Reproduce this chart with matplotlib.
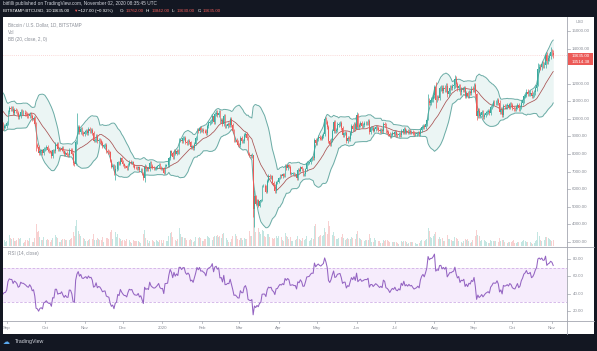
"""
BTC/USD daily chart (Bitstamp) with Bollinger Bands, volume and RSI,
styled after a TradingView snapshot.
"""

import matplotlib
matplotlib.use("Agg")  # headless backend
import matplotlib.pyplot as plt
import matplotlib.transforms as mtransforms
from matplotlib.lines import Line2D
from matplotlib.patches import Rectangle
import numpy as np
import pandas as pd

plt.rcParams["font.family"] = ["Liberation Sans", "DejaVu Sans"]

# ---------------------------------------------------------------------------
# Daily closes (USD), one list per month, starting 2019-08-01
# ---------------------------------------------------------------------------

close_2019_08 = [10400, 10530, 10820, 10980, 11800, 11470, 11980, 11980, 11850, 11290,
                 11550, 11390, 10870, 10050, 10310, 10360, 10220, 10320, 10920, 10760,
                 10130, 10110, 10410, 10140, 10140, 10370, 10180, 9720, 9480, 9590, 9600]
close_2019_09 = [9750, 10380, 10620, 10580, 10580, 10320, 10500, 10440, 10340, 10110,
                 10160, 10420, 10360, 10360, 10310, 10260, 10190, 10160, 10270, 10180,
                 9990, 10030, 9690, 8530, 8430, 8060, 8180, 8210, 8040, 8300]
close_2019_10 = [8330, 8390, 8230, 8150, 8140, 7870, 8210, 8180, 8590, 8590,
                 8260, 8300, 8280, 8360, 8160, 8000, 8080, 7960, 7950, 8230,
                 8220, 8030, 7470, 7410, 8660, 9250, 9550, 9240, 9430, 9180, 9150]
close_2019_11 = [9250, 9310, 9200, 9410, 9310, 9350, 9200, 8770, 8810, 9040,
                 8720, 8800, 8760, 8630, 8460, 8490, 8500, 8170, 8120, 8090,
                 7620, 7280, 7330, 6900, 7130, 7170, 7530, 7440, 7760, 7570]
close_2019_12 = [7420, 7310, 7300, 7200, 7400, 7550, 7510, 7530, 7350, 7230,
                 7210, 7200, 7260, 7070, 7110, 6880, 6620, 7280, 7150, 7190,
                 7140, 7510, 7320, 7250, 7200, 7200, 7250, 7310, 7390, 7220, 7170]
close_2020_01 = [7180, 6950, 7340, 7350, 7360, 7760, 8150, 8040, 7820, 8190,
                 8020, 8180, 8110, 8810, 8820, 8720, 8900, 8910, 8700, 8630,
                 8730, 8660, 8390, 8440, 8340, 8600, 8900, 9390, 9290, 9510, 9350]
close_2020_02 = [9380, 9330, 9290, 9180, 9620, 9750, 9800, 9900, 10160, 9850,
                 10270, 10360, 10240, 10360, 9900, 9930, 9700, 10180, 9600, 9610,
                 9690, 9670, 9970, 9660, 9310, 8790, 8810, 8700, 8540]
close_2020_03 = [8530, 8920, 8760, 8760, 9070, 9160, 8900, 8030, 7930, 7890,
                 7940, 4860, 5600, 5170, 5360, 5030, 5330, 5400, 6180, 6200,
                 6190, 5830, 6480, 6770, 6690, 6750, 6370, 6250, 5880, 6400, 6420]
close_2020_04 = [6640, 6800, 6740, 6860, 6780, 7340, 7200, 7370, 7290, 6870,
                 6890, 6910, 6850, 6860, 6630, 7100, 7040, 7250, 7130, 6850,
                 6860, 7130, 7490, 7510, 7540, 7700, 7780, 7770, 8800, 8620]
close_2020_05 = [8830, 8970, 8910, 8880, 9030, 9160, 9990, 9810, 9540, 8730,
                 8570, 8820, 9320, 9800, 9310, 9390, 9680, 9730, 9780, 9510,
                 9070, 9170, 9180, 8720, 8900, 8840, 9200, 9570, 9430, 9700, 9450]
close_2020_06 = [10200, 9520, 9670, 9790, 9620, 9670, 9750, 9780, 9770, 9880,
                 9280, 9470, 9480, 9340, 9430, 9520, 9460, 9380, 9300, 9360,
                 9290, 9690, 9630, 9290, 9250, 9160, 9010, 9110, 9190, 9140]
close_2020_07 = [9230, 9090, 9060, 9130, 9080, 9340, 9250, 9430, 9240, 9290,
                 9230, 9300, 9240, 9260, 9190, 9130, 9150, 9170, 9210, 9160,
                 9390, 9530, 9600, 9540, 9700, 9930, 11030, 10920, 11100, 11110, 11350]
close_2020_08 = [11800, 11070, 11230, 11190, 11750, 11770, 11600, 11760, 11680, 11890,
                 11390, 11570, 11780, 11770, 11860, 11910, 12290, 11960, 11750, 11860,
                 11520, 11680, 11650, 11750, 11330, 11470, 11320, 11530, 11480, 11710, 11650]
close_2020_09 = [11920, 11400, 10170, 10470, 10170, 10250, 10370, 10120, 10230, 10340,
                 10390, 10440, 10330, 10680, 10790, 10950, 10940, 10940, 11080, 10920,
                 10420, 10530, 10240, 10740, 10690, 10720, 10780, 10700, 10840, 10780]
close_2020_10 = [10620, 10570, 10550, 10670, 10790, 10600, 10670, 10920, 11060, 11300,
                 11380, 11540, 11430, 11430, 11500, 11320, 11370, 11510, 11750, 11920,
                 12820, 12980, 12930, 13120, 13040, 13070, 13650, 13280, 13460, 13560, 13800]
close_2020_11 = [13760, 13635]

# Daily volume (thousand BTC), same months
vol_2019_08 = [8, 9, 10, 9, 14, 12, 12, 10, 8, 9, 6, 7, 10, 12, 11, 9, 5, 6, 8, 8,
               10, 8, 7, 5, 5, 8, 7, 10, 9, 6, 4]
vol_2019_09 = [5, 12, 11, 8, 7, 8, 5, 5, 6, 8, 7, 8, 6, 3, 4, 6, 6, 5, 8, 6,
               4, 4, 8, 22, 14, 15, 9, 6, 6, 9]
vol_2019_10 = [8, 6, 7, 6, 4, 6, 8, 7, 11, 9, 8, 4, 4, 6, 7, 7, 6, 6, 4, 6,
               7, 8, 14, 10, 20, 26, 15, 12, 10, 9, 8]
vol_2019_11 = [7, 5, 5, 6, 7, 6, 7, 12, 6, 6, 8, 7, 6, 6, 9, 4, 4, 8, 8, 7,
               14, 16, 7, 12, 14, 9, 12, 8, 7, 5]
vol_2019_12 = [6, 6, 5, 7, 8, 6, 4, 3, 6, 5, 5, 5, 5, 4, 3, 7, 12, 16, 8, 6,
               3, 5, 9, 6, 5, 4, 6, 5, 4, 6, 6]
vol_2020_01 = [3, 6, 12, 5, 5, 10, 13, 14, 9, 11, 6, 5, 7, 18, 12, 9, 9, 8, 8, 6,
               5, 6, 7, 6, 4, 5, 9, 11, 8, 9, 8]
vol_2020_02 = [5, 5, 7, 7, 10, 9, 8, 5, 6, 9, 10, 10, 11, 9, 10, 8, 12, 13, 12, 8,
               6, 4, 4, 7, 10, 14, 12, 10, 7]
vol_2020_03 = [6, 8, 8, 6, 8, 7, 7, 12, 15, 10, 10, 45, 38, 14, 10, 18, 14, 12, 16, 15,
               10, 9, 12, 12, 9, 7, 8, 7, 8, 10, 8]
vol_2020_04 = [10, 12, 9, 6, 5, 13, 10, 9, 7, 9, 5, 5, 7, 6, 7, 10, 7, 6, 5, 8,
               6, 7, 10, 7, 5, 6, 8, 7, 20, 22]
vol_2020_05 = [12, 9, 10, 11, 10, 11, 18, 14, 12, 25, 20, 12, 11, 14, 10, 7, 7, 8, 8, 9,
               12, 8, 6, 7, 8, 7, 7, 9, 8, 8, 7]
vol_2020_06 = [12, 15, 8, 7, 6, 4, 5, 6, 6, 6, 12, 8, 4, 4, 8, 6, 5, 5, 5, 3,
               3, 6, 5, 6, 6, 5, 4, 3, 4, 4]
vol_2020_07 = [4, 4, 3, 2, 3, 5, 4, 5, 5, 4, 2, 3, 4, 4, 4, 3, 3, 2, 2, 3,
               5, 6, 6, 5, 6, 7, 18, 15, 9, 8, 10]
vol_2020_08 = [12, 14, 8, 7, 9, 7, 8, 5, 5, 7, 11, 7, 7, 6, 5, 5, 9, 8, 7, 5,
               6, 4, 3, 5, 7, 6, 7, 5, 3, 4, 6]
vol_2020_09 = [9, 10, 16, 11, 10, 5, 6, 7, 6, 5, 4, 3, 3, 6, 5, 5, 5, 5, 4, 4,
               8, 5, 6, 6, 4, 3, 3, 4, 4, 4]
vol_2020_10 = [5, 6, 3, 3, 4, 4, 3, 4, 5, 6, 5, 4, 4, 5, 4, 3, 2, 3, 5, 6,
               14, 10, 6, 5, 5, 6, 9, 9, 8, 7, 6]
vol_2020_11 = [5, 6]

# Days with notable wicks: date -> (high, low)
WICKS = {
    "2019-09-24": (9800, 8200),
    "2019-10-25": (8800, 7400),
    "2019-10-26": (10350, 8600),
    "2019-11-25": (7350, 6520),
    "2019-12-18": (7430, 6430),
    "2020-03-12": (7970, 4400),
    "2020-03-13": (5950, 3850),
    "2020-06-01": (10420, 9420),
    "2020-07-27": (11390, 9930),
    "2020-08-02": (12080, 10600),
    "2020-08-17": (12470, 11770),
    "2020-09-03": (11460, 9960),
    "2020-10-21": (13200, 11880),
    "2020-10-31": (14100, 13420),
}

MONTH_TICKS = ["2019-09-01", "2019-10-01", "2019-11-01", "2019-12-01", "2020-01-01",
               "2020-02-01", "2020-03-01", "2020-04-01", "2020-05-01", "2020-06-01",
               "2020-07-01", "2020-08-01", "2020-09-01", "2020-10-01", "2020-11-01"]
MONTH_LABELS = ["Sep", "Oct", "Nov", "Dec", "2020", "Feb", "Mar", "Apr", "May",
                "Jun", "Jul", "Aug", "Sep", "Oct", "Nov"]

PRICE_TICKS = [15000, 14000, 12000, 11000, 10000, 9000, 8000, 7000, 6000, 5000, 4000, 3000]
RSI_TICKS = [80, 60, 40, 20]

LAST_PRICE = 13635.00

# ---------------------------------------------------------------------------
# Series assembly
# ---------------------------------------------------------------------------

closes = np.array(close_2019_08 + close_2019_09 + close_2019_10 + close_2019_11
                  + close_2019_12 + close_2020_01 + close_2020_02 + close_2020_03
                  + close_2020_04 + close_2020_05 + close_2020_06 + close_2020_07
                  + close_2020_08 + close_2020_09 + close_2020_10 + close_2020_11,
                  dtype=float)
volumes = np.array(vol_2019_08 + vol_2019_09 + vol_2019_10 + vol_2019_11
                   + vol_2019_12 + vol_2020_01 + vol_2020_02 + vol_2020_03
                   + vol_2020_04 + vol_2020_05 + vol_2020_06 + vol_2020_07
                   + vol_2020_08 + vol_2020_09 + vol_2020_10 + vol_2020_11,
                   dtype=float)
assert len(closes) == len(volumes)

dates = pd.date_range("2019-08-01", periods=len(closes), freq="D")
idx = np.arange(len(closes))
opens = np.r_[closes[0], closes[:-1]]
WICK = 0.012
highs = np.maximum(opens, closes) * (1 + WICK)
lows = np.minimum(opens, closes) * (1 - WICK)
for d, (hi, lo) in WICKS.items():
    i = (pd.Timestamp(d) - dates[0]).days
    highs[i], lows[i] = hi, lo

s = pd.Series(closes)
basis = s.rolling(20).mean()
dev = s.rolling(20).std(ddof=0)
upper = basis + 2 * dev
lower = basis - 2 * dev

delta = s.diff()
gain = delta.clip(lower=0).ewm(alpha=1 / 14, adjust=False).mean()
loss = (-delta.clip(upper=0)).ewm(alpha=1 / 14, adjust=False).mean()
rsi = 100 - 100 / (1 + gain / loss)

# ---------------------------------------------------------------------------
# Layout (pixel boxes on a 597x351 canvas)
# ---------------------------------------------------------------------------

W, H = 597, 351
BG = "#131722"
UP, DOWN = "#3aaa9e", "#ec5a57"
GREY = "#8a8e97"
AXLINE = "#a3a6af"


def box(x0, y0, x1, y1):
    return [x0 / W, 1 - y1 / H, (x1 - x0) / W, (y1 - y0) / H]


def fx(x):
    return x / W


def fy(y):
    return 1 - y / H


fig = plt.figure(figsize=(W / 100, H / 100), dpi=100, facecolor=BG)

panel = fig.add_axes(box(3, 17, 594, 334))
panel.set_facecolor("white")
panel.set_axis_off()
panel.add_patch(Rectangle((0, 0), 1, 1, transform=panel.transAxes,
                          color="white", zorder=0))

XLIM = (28.1, 469.8)

ax_vol = fig.add_axes(box(3, 18, 567, 246))
ax = fig.add_axes(box(3, 18, 567, 246))
ax_rsi = fig.add_axes(box(3, 247, 567, 321))
ax_time = fig.add_axes(box(3, 321, 594, 334))
for a in (ax_vol, ax, ax_rsi, ax_time):
    a.set_axis_off()
    a.patch.set_visible(False)
for a in (ax_vol, ax, ax_rsi):
    a.set_xlim(*XLIM)
ax_vol.set_zorder(1)
ax.set_zorder(2)

# Volume
up_day = closes >= opens
ax_vol.bar(idx, volumes, width=0.7, linewidth=0,
           color=np.where(up_day, "#c4e6e2", "#f8d0d0"))
ax_vol.set_ylim(0, 230)

# Bollinger bands
ax.fill_between(idx, lower, upper, color="#ebf5f4", linewidth=0, zorder=1)
ax.plot(idx, upper, color="#6aaba5", lw=0.7, zorder=2)
ax.plot(idx, lower, color="#6aaba5", lw=0.7, zorder=2)
ax.plot(idx, basis, color="#a85252", lw=0.55, zorder=2)

# Candles
ccol = np.where(up_day, UP, DOWN)
ax.vlines(idx, lows, highs, colors=ccol, lw=0.5, zorder=3)
ax.bar(idx, closes - opens, bottom=opens, width=0.65, color=ccol, linewidth=0, zorder=4)
ax.axhline(LAST_PRICE, color=DOWN, lw=0.5, ls=(0, (1, 2)), alpha=0.45, zorder=2)
ax.set_ylim(2770, 15740)

# RSI
ax_rsi.axhspan(30, 70, color="#f6ecfc", linewidth=0, zorder=0)
ax_rsi.axhline(70, color="#d0b0e6", lw=0.6, ls=(0, (3, 2)), zorder=1)
ax_rsi.axhline(30, color="#d0b0e6", lw=0.6, ls=(0, (3, 2)), zorder=1)
ax_rsi.plot(idx, rsi, color="#9464c2", lw=0.75, zorder=2)
ax_rsi.set_ylim(8.46, 93.85)

# Separator lines
fig.add_artist(Line2D([fx(567), fx(567)], [fy(17), fy(334)], color=AXLINE, lw=0.6))
fig.add_artist(Line2D([fx(3), fx(594)], [fy(246.5), fy(246.5)], color=AXLINE, lw=0.6))
fig.add_artist(Line2D([fx(3), fx(594)], [fy(321), fy(321)], color=AXLINE, lw=0.6))

# Price axis labels
tr_p = mtransforms.blended_transform_factory(fig.transFigure, ax.transData)
for v in PRICE_TICKS:
    fig.add_artist(Line2D([fx(567), fx(570)], [v, v], transform=tr_p, color=AXLINE, lw=0.5))
    fig.text(fx(572), v, f"{v:.2f}", transform=tr_p, fontsize=3.2,
             color=GREY, va="center", ha="left")
fig.text(fx(580), fy(22), "USD", fontsize=2.8, color=GREY, ha="center", va="center")

for y, label in [(56, f"{LAST_PRICE:.2f}"), (62, "13514.38")]:
    fig.add_artist(Rectangle((fx(568), fy(y + 3)), fx(25), 6 / H,
                             transform=fig.transFigure, color=DOWN, lw=0))
    fig.text(fx(580.5), fy(y), label, fontsize=3.2, color="white",
             ha="center", va="center")

tr_r = mtransforms.blended_transform_factory(fig.transFigure, ax_rsi.transData)
for v in RSI_TICKS:
    fig.add_artist(Line2D([fx(567), fx(570)], [v, v], transform=tr_r, color=AXLINE, lw=0.5))
    fig.text(fx(573), v, f"{v:.2f}", transform=tr_r, fontsize=3.2,
             color=GREY, va="center", ha="left")

# Time axis labels
ax_time.set_xlim(XLIM[0], XLIM[0] + (XLIM[1] - XLIM[0]) * (591 / 564))
ax_time.set_ylim(0, 1)
for d, lab in zip(MONTH_TICKS, MONTH_LABELS):
    p = (pd.Timestamp(d) - dates[0]).days
    ax_time.plot([p, p], [0.88, 1.0], color=AXLINE, lw=0.5, clip_on=True)
    ax_time.text(p, 0.45, lab, fontsize=3.2, color=GREY, ha="center",
                 va="center", clip_on=True)

# Legends inside panes
fig.text(fx(8), fy(25), "Bitcoin / U.S. Dollar, 1D, BITSTAMP", fontsize=3.3, color=GREY, va="center")
fig.text(fx(8), fy(32), "Vol", fontsize=3.3, color=GREY, va="center")
fig.text(fx(8), fy(39), "BB (20, close, 2, 0)", fontsize=3.3, color=GREY, va="center")
fig.text(fx(8), fy(253), "RSI (14, close)", fontsize=3.3, color=GREY, va="center")

# Header
fig.text(fx(3), fy(4), "bitfilli published on TradingView.com, November 02, 2020 08:35:45 UTC",
         fontsize=3.4, color="#d1d4dc", va="center")
header = [
    (3, "BITSTAMP:BTCUSD, 1D", "#ffffff"),
    (52, "13635.00", "#ffffff"),
    (73, "\u25bc", DOWN),
    (78, "\u2212127.00 (\u22120.92%)", "#ffffff"),
    (120, "O:", "#ffffff"),
    (126, "13762.00", DOWN),
    (146, "H:", "#ffffff"),
    (152, "13842.00", DOWN),
    (172, "L:", "#ffffff"),
    (177, "13630.00", DOWN),
    (198, "C:", "#ffffff"),
    (203, "13635.00", DOWN),
]
for x, txt, col in header:
    fig.text(fx(x), fy(11), txt, fontsize=3.2, color=col, va="center")

# Footer
fig.text(fx(3), fy(342), "\u2601", fontsize=5, color="#5aaaf0", va="center")
fig.text(fx(15), fy(342), "TradingView", fontsize=3.8, color="#d1d4dc", va="center")

fig.savefig("out.png", dpi=100, facecolor=BG)
